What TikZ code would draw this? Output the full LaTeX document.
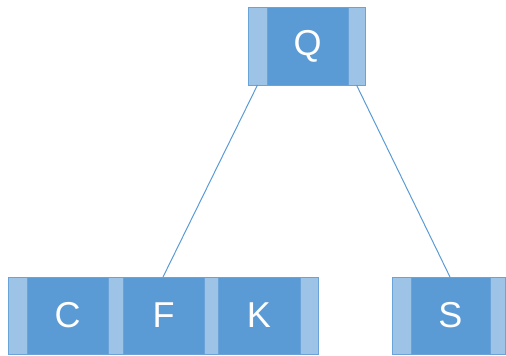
\documentclass[tikz,border=0pt]{standalone}
\usepackage{fontspec}
\setmainfont{Liberation Sans}
\definecolor{keyblue}{HTML}{5B9BD5}
\definecolor{ptrblue}{HTML}{9DC3E6}
\definecolor{edgeblue}{HTML}{6AA3D8}
\begin{document}
\begin{tikzpicture}[x=1pt,y=-1pt,
  cell/.style={rectangle, anchor=north west, inner sep=0pt, outer sep=0pt, draw=edgeblue, line width=0.6pt},
  keycell/.style={cell, fill=keyblue, text=white, font=\fontsize{36}{36}\selectfont},
  ptrcell/.style={cell, fill=ptrblue},
  link/.style={draw=keyblue, line width=1pt}]
\useasboundingbox (0,0) rectangle (506,356);
% root
\node[ptrcell, minimum width=19pt, minimum height=78pt] (q0) at (248,7) {};
\node[keycell, minimum width=81pt, minimum height=78pt] (q) at (267,7) {Q};
\node[ptrcell, minimum width=17pt, minimum height=78pt] (q1) at (348,7) {};
% left leaf
\node[ptrcell, minimum width=19pt, minimum height=77pt] (c0) at (8,277) {};
\node[keycell, minimum width=81pt, minimum height=77pt] (c) at (27,277) {C};
\node[ptrcell, minimum width=15pt, minimum height=77pt] (c1) at (108,277) {};
\node[keycell, minimum width=81pt, minimum height=77pt] (f) at (123,277) {F};
\node[ptrcell, minimum width=14pt, minimum height=77pt] (f1) at (204,277) {};
\node[keycell, minimum width=82pt, minimum height=77pt] (k) at (218,277) {K};
\node[ptrcell, minimum width=18pt, minimum height=77pt] (k1) at (300,277) {};
% right leaf
\node[ptrcell, minimum width=19pt, minimum height=77pt] (s0) at (392,277) {};
\node[keycell, minimum width=79pt, minimum height=77pt] (s) at (411,277) {S};
\node[ptrcell, minimum width=15.5pt, minimum height=77pt] (s1) at (490,277) {};
% links
\draw[link] (q0.south) -- ([xshift=-0.5pt]f.north);
\draw[link] (q1.south) -- ([xshift=-0.5pt]s.north);
\end{tikzpicture}
\end{document}
